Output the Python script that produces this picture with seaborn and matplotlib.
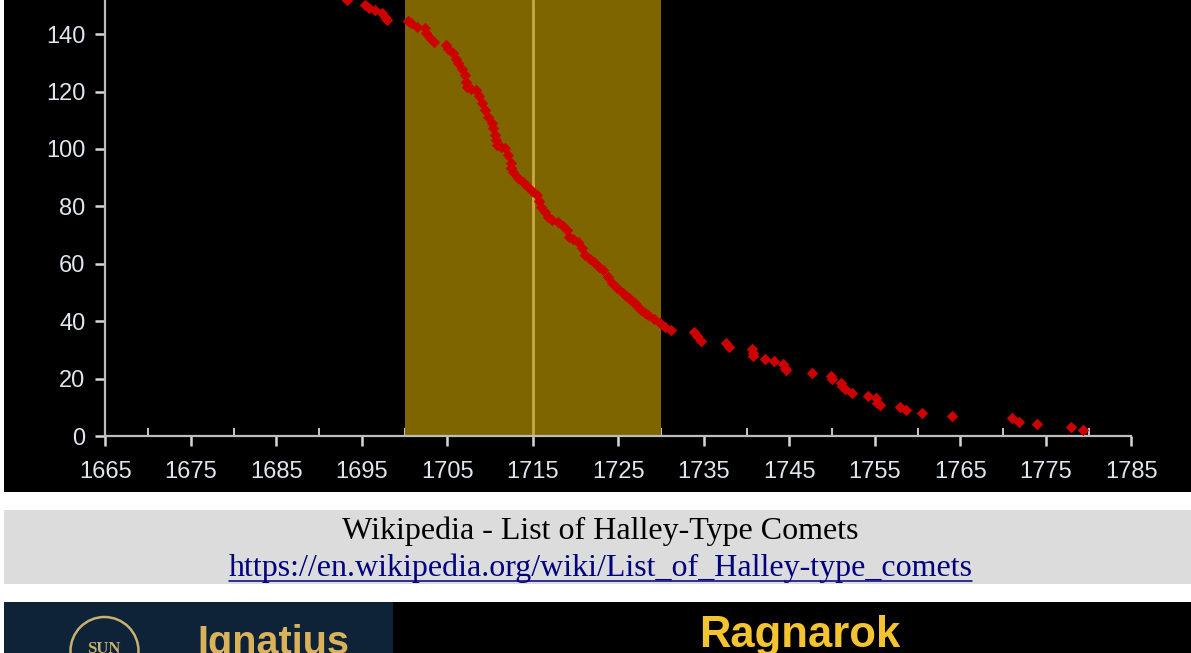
import matplotlib
matplotlib.use("Agg")
import matplotlib.pyplot as plt
from matplotlib.patches import Rectangle, Circle
import pandas as pd
import seaborn as sns

# Halley-type comets: year against running count
years = [1693.3, 1695.4, 1695.8, 1696.6, 1697.4, 1697.7, 1697.9, 1700.4, 1700.7, 1701.4,
         1702.4, 1702.5, 1703.0, 1703.4, 1704.8, 1705.1, 1705.7, 1706.0, 1706.2, 1706.7,
         1707.1, 1707.2, 1707.3, 1707.8, 1708.3, 1708.7, 1709.1, 1709.4, 1709.8, 1710.2, 1710.4,
         1710.6, 1710.7, 1710.8, 1711.3, 1711.8, 1712.1, 1712.4, 1712.5, 1712.7, 1713.3, 1713.8,
         1714.3, 1714.9, 1715.5, 1715.7, 1715.9, 1716.4, 1716.8, 1717.3, 1717.9, 1718.5, 1719.0,
         1719.2, 1719.7, 1720.3, 1720.8, 1721.1, 1721.7, 1722.1, 1722.7, 1723.2, 1723.8, 1724.3,
         1724.9, 1725.5, 1725.9, 1726.3, 1726.6, 1727.0, 1727.3, 1727.7, 1728.1, 1728.5, 1729.2,
         1729.9, 1730.5, 1731.2,
         1733.8, 1734.2, 1734.7, 1737.6, 1738.0, 1740.6, 1740.7, 1740.7, 1742.2, 1743.2,
         1744.3, 1744.5, 1744.6, 1747.6, 1749.9, 1750.0, 1751.0, 1751.2, 1751.5, 1752.3,
         1754.2, 1755.1, 1755.3, 1755.6, 1757.9, 1758.6, 1760.5, 1764.0, 1771.1, 1771.9,
         1774.0, 1777.9, 1779.3]
counts = [151.9, 150.1, 149.1, 148.4, 147.3, 146.0, 144.9, 144.5, 143.9, 142.6,
          142.1, 140.4, 138.5, 137.2, 136.2, 135.0, 133.4, 131.5, 129.9, 128.0,
          125.7, 123.5, 121.6, 121.0, 120.5, 118.5, 116.0, 113.5, 111.1, 109.0, 107.3,
          105.0, 103.0, 101.4, 100.8, 100.3, 98.0, 95.1, 93.5, 92.0, 90.0, 88.5,
          87.0, 85.3, 83.9, 82.0, 79.8, 78.0, 76.3, 75.4, 74.5, 73.0, 71.8,
          69.3, 68.6, 67.6, 65.5, 63.0, 61.5, 60.6, 59.0, 57.8, 55.5, 53.3,
          51.5, 49.8, 48.9, 48.0, 47.0, 46.3, 45.0, 44.0, 43.0, 42.1, 40.8,
          39.4, 38.0, 36.9,
          36.1, 34.9, 33.1, 32.3, 31.1, 30.2, 29.0, 27.9, 27.0, 26.1,
          25.0, 23.8, 23.0, 22.0, 20.9, 19.7, 18.6, 17.4, 16.3, 15.1,
          14.0, 13.1, 11.6, 10.7, 10.2, 9.0, 8.0, 7.1, 6.3, 5.0,
          4.1, 3.2, 2.1]
x_ticks = [1665, 1675, 1685, 1695, 1705, 1715, 1725, 1735, 1745, 1755, 1765, 1775, 1785]
x_minor = [1670, 1680, 1690, 1700, 1710, 1720, 1730, 1740, 1750, 1760, 1770, 1780]
y_ticks = [0, 20, 40, 60, 80, 100, 120, 140]
band_start, band_end, band_mid = 1700, 1730, 1715

comets = pd.DataFrame({"year": years, "count": counts})

sns.set_style("white")
plt.rcParams["font.family"] = ["Liberation Sans", "DejaVu Sans"]

W, H = 1191, 653
fig = plt.figure(figsize=(W / 100, H / 100), dpi=100, facecolor="white")

# page furniture, in pixel coordinates
bg = fig.add_axes([0, 0, 1, 1])
bg.set_xlim(0, W)
bg.set_ylim(H, 0)
bg.axis("off")
bg.add_patch(Rectangle((4, 510), W - 4, 74, color="#dcdcdc", lw=0))
bg.add_patch(Rectangle((4, 602), 389, 51, color="#0f2338", lw=0))
bg.add_patch(Rectangle((393, 602), W - 393, 51, color="black", lw=0))
bg.text(600.5, 531.5, "Wikipedia - List of Halley-Type Comets", family="Liberation Serif",
        fontsize=23, color="black", ha="center", va="center")
bg.text(600.5, 568.5, "https://en.wikipedia.org/wiki/List_of_Halley-type_comets",
        family="Liberation Serif", fontsize=23, color="#000080", ha="center", va="center")
bg.plot([229, 972], [581, 581], color="#000080", lw=1.1)
bg.add_patch(Circle((104.5, 651), 34, fill=False, ec="#c8b070", lw=1.8))
bg.text(104, 653, "SUN", family="Liberation Serif", fontsize=12, fontweight="bold", color="#c8b070",
        ha="center", va="baseline", clip_on=True)
bg.text(197, 653.5, "Ignatius", fontsize=28.5, fontweight="bold", color="#d9b25a", ha="left",
        va="baseline", clip_on=True)
bg.text(800, 647, "Ragnarok", fontsize=31.4, fontweight="bold", color="#f4c430", ha="center",
        va="baseline", clip_on=True)

# chart fills the black rectangle
ax = fig.add_axes([4 / W, (H - 492) / H, (W - 4) / W, 492 / H], facecolor="black", zorder=2)
ax.set_xlim(1653.15, 1791.98)
ax.set_ylim(-19.5, 151.9)

ax.fill_betweenx([0, 151.9], band_start, band_end, color="#7f6500", lw=0, zorder=1)
ax.plot([band_mid, band_mid], [0, 151.9], color="#c8ab40", lw=2, zorder=2)
sns.scatterplot(data=comets, x="year", y="count", marker="D", s=34, color="#cc0000",
                linewidth=0, ax=ax, zorder=4, legend=False)

for s in ["top", "right"]:
    ax.spines[s].set_visible(False)
ax.spines["left"].set_position(("data", 1665))
ax.spines["bottom"].set_position(("data", 0))
ax.spines["left"].set_bounds(0, 151.9)
ax.spines["bottom"].set_bounds(1665, 1785)
for s in ["left", "bottom"]:
    ax.spines[s].set_color("#bdbdbd")
    ax.spines[s].set_linewidth(1.6)
    ax.spines[s].set_zorder(3)

ax.set_xticks(x_ticks)
ax.set_xticks(x_minor, minor=True)
ax.set_yticks(y_ticks)
ax.tick_params(axis="x", which="major", direction="out", length=7.5, width=1.8, color="#d8d8d8",
               labelcolor="#dfe6ee", labelsize=17, pad=10.5, bottom=True)
ax.tick_params(axis="x", which="minor", direction="in", length=6, width=1.3, color="#d8d8d8",
               bottom=True)
ax.tick_params(axis="y", direction="out", length=7.5, width=1.8, color="#d8d8d8",
               labelcolor="#dfe6ee", labelsize=17, pad=6.7, left=True)
ax.set_xlabel("")
ax.set_ylabel("")

fig.savefig("out.png", dpi=100, facecolor="white")
